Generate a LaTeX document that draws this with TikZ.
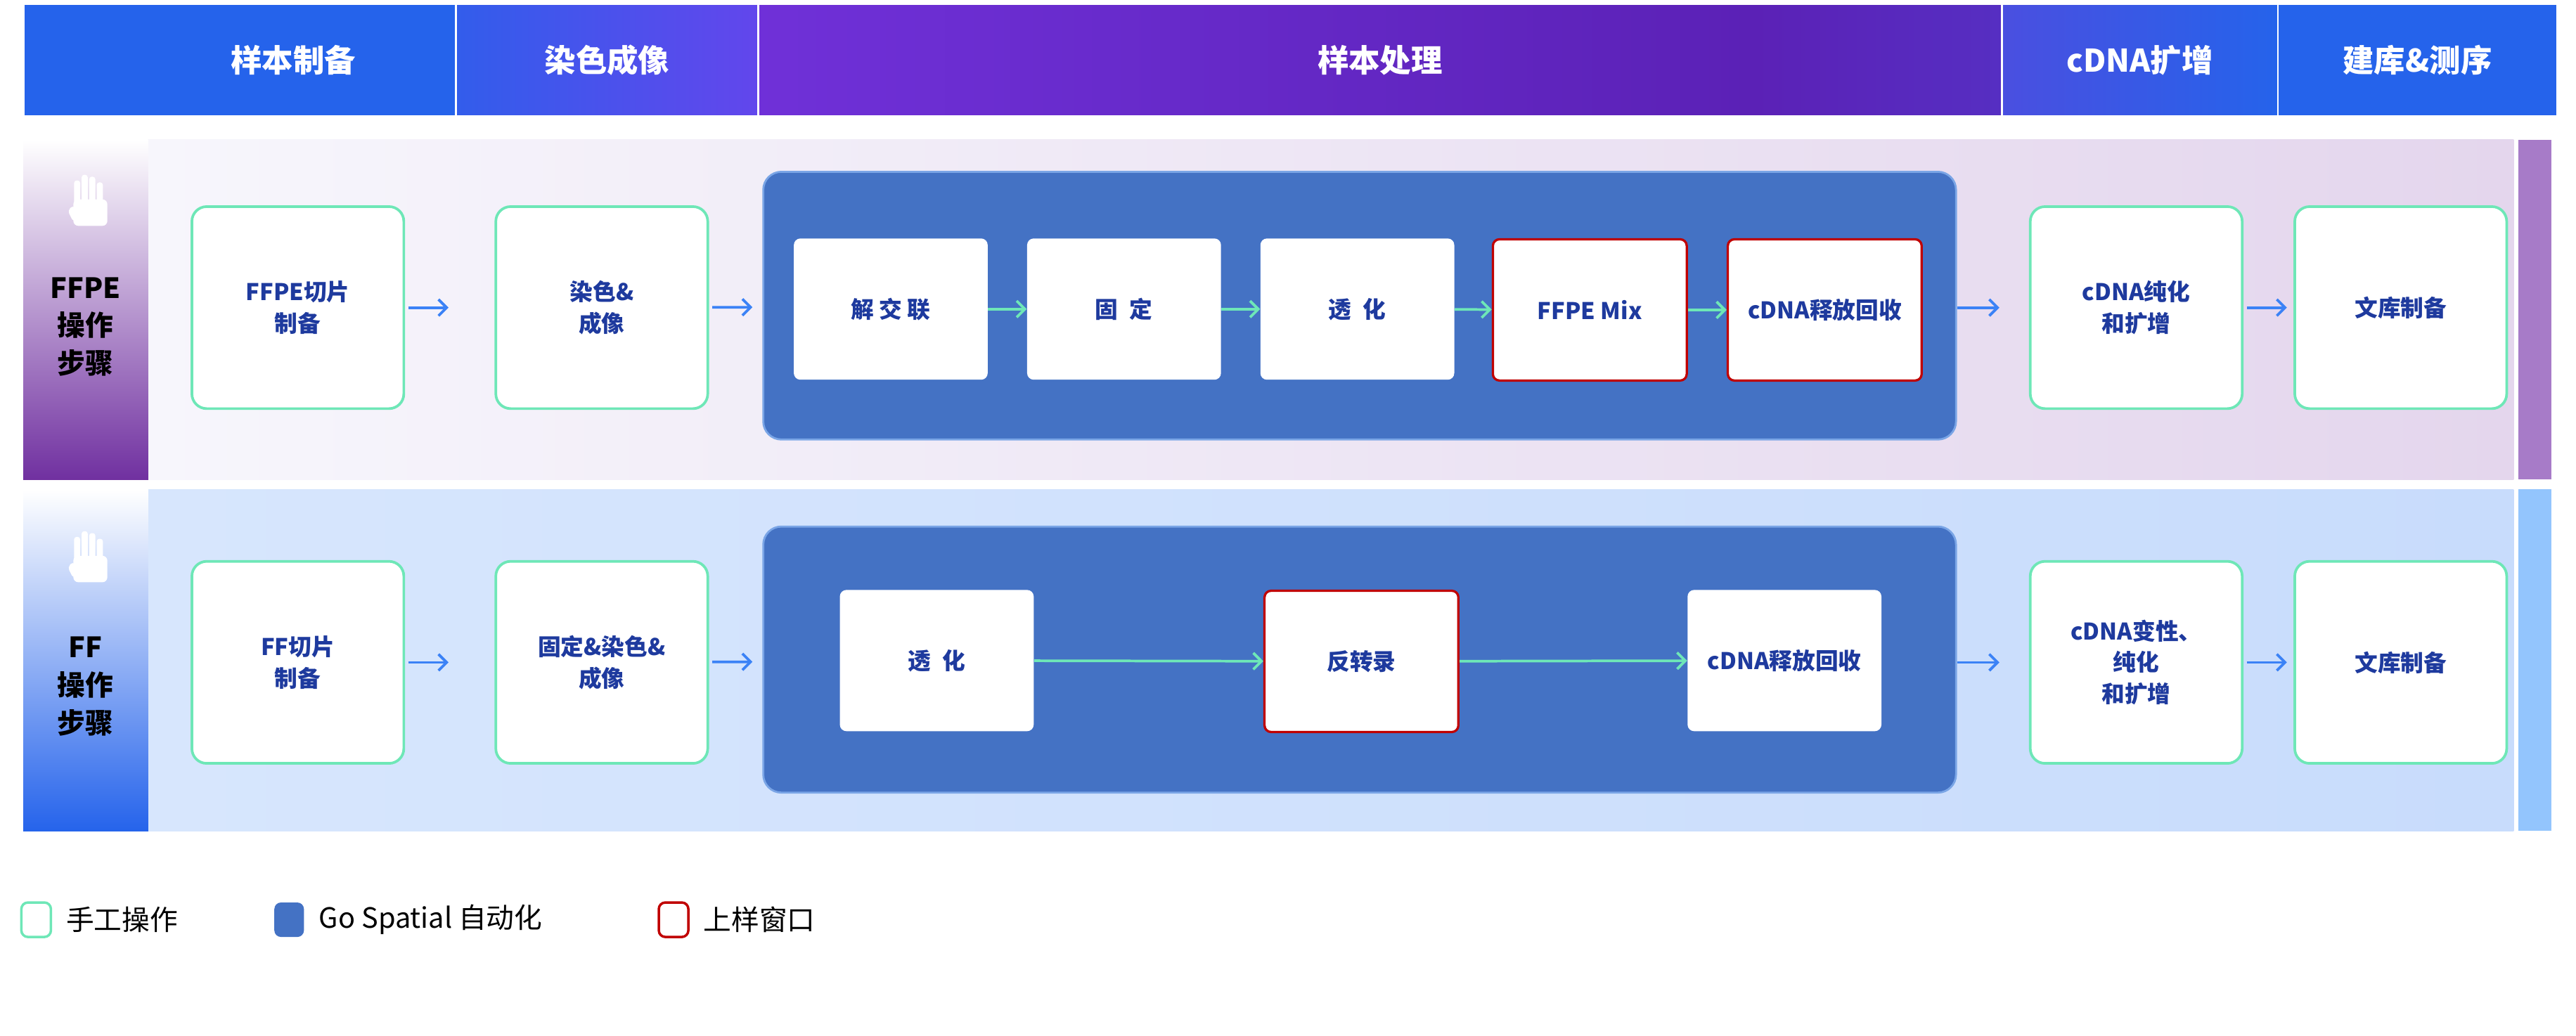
\documentclass[tikz,border=0pt]{standalone}
\usepackage{fontspec}
\setmainfont{Noto Sans CJK SC}
\usetikzlibrary{arrows.meta, positioning}
\definecolor{hblue}{HTML}{2563EB}
\definecolor{hviolet}{HTML}{7C3AED}
\definecolor{hdeep}{HTML}{5B21B6}
\definecolor{hindigo}{HTML}{4A4FE0}
\definecolor{manual}{HTML}{6EE7B7}
\definecolor{auto}{HTML}{4472C4}
\definecolor{autoedge}{HTML}{7AA5E6}
\definecolor{loadwin}{HTML}{C00000}
\definecolor{txtblue}{HTML}{1E3A9E}
\definecolor{flowblue}{HTML}{3B82F6}
\definecolor{lavleft}{HTML}{F7F6FC}
\definecolor{lavright}{HTML}{E4D6ED}
\definecolor{skyleft}{HTML}{D7E6FD}
\definecolor{skyright}{HTML}{C8DCFC}
\definecolor{ffpelabel}{HTML}{7030A0}
\definecolor{ffpestrip}{HTML}{A77BC8}
\definecolor{ffstrip}{HTML}{93C5FD}
\pgfdeclarehorizontalshading{midhead}{100bp}{color(0bp)=(hviolet); color(65bp)=(hdeep); color(100bp)=(hindigo)}
\tikzset{
    head/.style={rectangle, draw=white, line width=1pt, anchor=north west, minimum height=68pt, text=white, font=\fontsize{19}{22}\selectfont\bfseries, inner sep=0pt},
    rowlabel/.style={rectangle, anchor=north west, minimum width=76pt, inner sep=0pt},
    manualstep/.style={rectangle, rounded corners=9pt, draw=manual, line width=1.6pt, fill=white, anchor=north west, minimum width=129pt, minimum height=123pt, text=txtblue, align=center, font=\fontsize{14}{19}\selectfont\bfseries},
    panel/.style={rectangle, rounded corners=11pt, draw=autoedge, line width=1.2pt, fill=auto, anchor=north west, minimum width=726pt},
    autostep/.style={rectangle, rounded corners=4pt, fill=white, anchor=north west, minimum width=118pt, minimum height=86pt, text=txtblue, align=center, font=\fontsize{14}{18}\selectfont\bfseries},
    window/.style={autostep, draw=loadwin, line width=1.4pt},
    flow/.style={-{Straight Barb[length=5pt,width=10pt]}, flowblue, line width=1.6pt},
    inflow/.style={-{Straight Barb[length=5pt,width=10pt]}, manual, line width=1.6pt},
    keybox/.style={rectangle, rounded corners=4pt, minimum width=18pt, minimum height=21pt, line width=1.5pt},
    keytext/.style={anchor=west, font=\fontsize{17}{20}\selectfont}
}
\newcommand{\handicon}[1]{%
  \begin{scope}[shift={#1}, scale=1.15]
    \fill[white, rounded corners=3pt] (-9,-4) -- (-9,10) -- (9,10) -- (9,-4) -- cycle;
    \foreach \fx/\fh in {-7/-14,-3/-17,1/-16,5/-13}
      \fill[white, rounded corners=1.5pt] (\fx-1.6,\fh) rectangle (\fx+1.6,0);
    \fill[white, rounded corners=2pt] (-12,2) -- (-9,-1) -- (-7,4) -- (-9,8) -- cycle;
  \end{scope}}
\begin{document}
\begin{tikzpicture}[x=1pt, y=-1pt]
    \useasboundingbox (0,0) rectangle (1568,630.4);
    % header
    \node[head, fill=hblue, minimum width=263pt] (hprep) at (14,2) {\hspace*{65pt}样本制备};
    \node[head, left color=hblue!85!hviolet, right color=hviolet!70!hblue, minimum width=184pt] (hstain) at (277,2) {染色成像};
    \node[head, shading=midhead, minimum width=757pt] (hproc) at (461,2) {样本处理};
    \node[head, left color=hindigo, right color=hblue, minimum width=168pt] (hamp) at (1218,2) {cDNA扩增};
    \node[head, fill=hblue, minimum width=170pt] (hlib) at (1386,2) {建库\&测序};
    % row bands
    \fill[left color=lavleft, right color=lavright] (90,85) rectangle (1530,292);
    \fill[ffpestrip] (1533,85) rectangle (1553,292);
    \node[rowlabel, minimum height=207pt, top color=white, bottom color=ffpelabel] (lffpe) at (14,85) {};
    \fill[left color=skyleft, right color=skyright] (90,298) rectangle (1530,506);
    \fill[ffstrip] (1533,298) rectangle (1553,506);
    \node[rowlabel, minimum height=208pt, top color=white, bottom color=hblue] (lff) at (14,298) {};
    \handicon{(55,126)}
    \handicon{(55,343)}
    \node[align=center, font=\fontsize{17}{23}\selectfont\bfseries] at (52,199) {FFPE\\操作\\步骤};
    \node[align=center, font=\fontsize{17}{23}\selectfont\bfseries] at (52,418) {FF\\操作\\步骤};
    % FFPE row
    \node[manualstep] (fcut) at (116,125) {FFPE切片\\制备};
    \node[manualstep] (fstain) at (301,125) {染色\&\\成像};
    \node[panel, minimum height=163pt] (fauto) at (464,104) {};
    \node[autostep] (fdecl) at (483,145) {解 交 联};
    \node[autostep] (ffix) at (625,145) {固\enspace 定};
    \node[autostep] (fperm) at (767,145) {透\enspace 化};
    \node[window] (fmix) at (908,145) {FFPE Mix};
    \node[window] (frel) at (1051,145) {cDNA释放回收};
    \node[manualstep] (fpur) at (1235,125) {cDNA纯化\\和扩增};
    \node[manualstep] (flib) at (1396,125) {文库制备};
    \draw[flow, shorten <=2pt, shorten >=28pt] (fcut) -- (fstain);
    \draw[flow, shorten <=2pt, shorten >=6pt] (fstain) -- (fauto);
    \draw[inflow] (fdecl) -- (ffix);
    \draw[inflow] (ffix) -- (fperm);
    \draw[inflow] (fperm) -- (fmix);
    \draw[inflow] (fmix) -- (frel);
    \draw[flow, shorten >=18pt] (fauto.east |- fpur.west) -- (fpur);
    \draw[flow, shorten <=2pt, shorten >=4pt] (fpur) -- (flib);
    % FF row
    \node[manualstep] (gcut) at (116,341) {FF切片\\制备};
    \node[manualstep] (gstain) at (301,341) {固定\&染色\&\\成像};
    \node[panel, minimum height=162pt] (gauto) at (464,320) {};
    \node[autostep] (gperm) at (511,359) {透\enspace 化};
    \node[window] (grt) at (769,359) {反转录};
    \node[autostep] (grel) at (1027,359) {cDNA释放回收};
    \node[manualstep] (gpur) at (1235,341) {cDNA变性、\\纯化\\和扩增};
    \node[manualstep] (glib) at (1396,341) {文库制备};
    \draw[flow, shorten <=2pt, shorten >=28pt] (gcut) -- (gstain);
    \draw[flow, shorten <=2pt, shorten >=6pt] (gstain) -- (gauto);
    \draw[inflow] (gperm) -- (grt);
    \draw[inflow] (grt) -- (grel);
    \draw[flow, shorten >=18pt] (gauto.east |- gpur.west) -- (gpur);
    \draw[flow, shorten <=2pt, shorten >=4pt] (gpur) -- (glib);
    % legend
    \node[keybox, draw=manual, fill=white] (kman) at (22,560) {};
    \node[keytext, right=5pt of kman] {手工操作};
    \node[keybox, fill=auto] (kauto) at (176,560) {};
    \node[keytext, right=5pt of kauto] {Go Spatial 自动化};
    \node[keybox, draw=loadwin, fill=white] (kwin) at (410,560) {};
    \node[keytext, right=5pt of kwin] {上样窗口};
\end{tikzpicture}
\end{document}
